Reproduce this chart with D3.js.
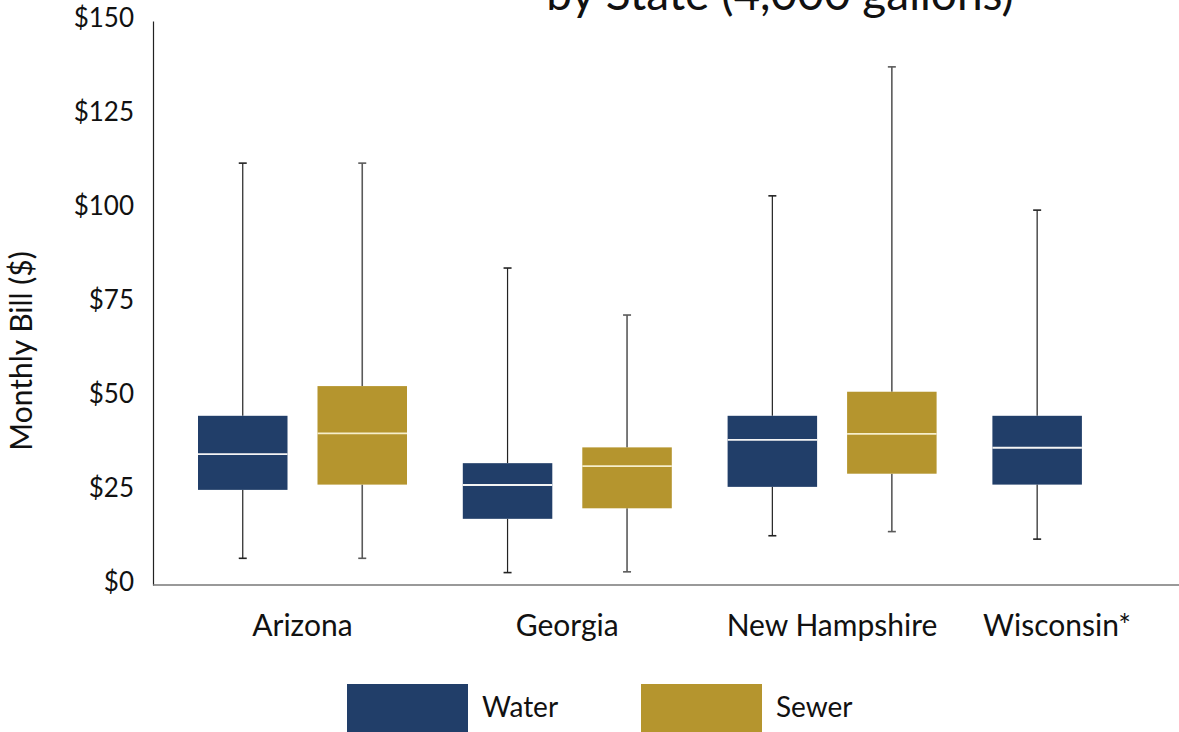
<!DOCTYPE html>
<html>
<head>
<meta charset="utf-8">
<script src="https://cdn.jsdelivr.net/npm/d3@7"></script>
<style>
  html, body { margin: 0; padding: 0; background: #fff; }
  svg { display: block; font-family: Lato, "Open Sans", sans-serif; }
</style>
</head>
<body>
<svg id="chart" width="1179" height="732"></svg>
<script>
// ---- data ----
const categories = ["Arizona", "Georgia", "New Hampshire", "Wisconsin*"];
const seriesNames = ["Water", "Sewer"];
const waterMin    = [7.1, 3.3, 13.1, 12.2];
const waterQ1     = [25.3, 17.6, 26.1, 26.7];
const waterMedian = [34.8, 26.6, 38.6, 36.5];
const waterQ3     = [45.0, 32.4, 45.0, 45.0];
const waterMax    = [112.2, 84.3, 103.5, 99.7];
const sewerMin    = [7.1, 3.5, 14.2, null];
const sewerQ1     = [26.7, 20.4, 29.6, null];
const sewerMedian = [40.3, 31.6, 40.2, null];
const sewerQ3     = [52.9, 36.6, 51.4, null];
const sewerMax    = [112.2, 71.8, 137.8, null];
const yTicks = [0, 25, 50, 75, 100, 125, 150];
const titleText = "by State (4,000 gallons)";
const yTitle = "Monthly Bill ($)";

// ---- build rows ----
const rows = [];
categories.forEach((c, i) => {
  if (waterQ1[i] != null) rows.push({cat: c, s: "Water", min: waterMin[i], q1: waterQ1[i], med: waterMedian[i], q3: waterQ3[i], max: waterMax[i]});
  if (sewerQ1[i] != null) rows.push({cat: c, s: "Sewer", min: sewerMin[i], q1: sewerQ1[i], med: sewerMedian[i], q3: sewerQ3[i], max: sewerMax[i]});
});

const colors = {Water: "#213e69", Sewer: "#b5952e"};
const medColors = {Water: "#f4f4f4", Sewer: "#f6eecb"};
const whiskColors = {Water: "#222", Sewer: "#5a5a5a"};

const svg = d3.select("#chart");
const plotLeft = 153, plotRight = 1179, plotTop = 21, plotBottom = 585;

const y = d3.scaleLinear().domain([0, 150]).range([plotBottom, plotTop]);
const x = d3.scaleBand().domain(categories).range([170, 1229.2]);
const xs = d3.scaleBand().domain(seriesNames).range([28, 237]).paddingInner(0.251);

// title (second line, partially cut at top as in the reference)
svg.append("text")
  .attr("x", 780).attr("y", 10)
  .attr("text-anchor", "middle")
  .attr("font-size", 46)
  .attr("fill", "#111")
  .text(titleText);

// y axis
const yAxis = d3.axisLeft(y).tickValues(yTicks).tickSize(0).tickPadding(19)
  .tickFormat(d => "$" + d);
const gy = svg.append("g").attr("transform", `translate(${plotLeft},0)`).call(yAxis);
gy.select(".domain").attr("stroke", "#222").attr("stroke-width", 1.2);
gy.selectAll("text").attr("font-size", 26).attr("fill", "#111")
  .attr("font-family", "Lato, sans-serif").attr("dy", "0.22em");

// x axis line
const xAxis = d3.axisBottom(x).tickSize(0).tickFormat("");
const gx = svg.append("g").attr("transform", `translate(0,${plotBottom})`).call(xAxis);
gx.select(".domain").remove();
gx.append("line").attr("x1", plotLeft).attr("x2", plotRight).attr("y1", 0).attr("y2", 0)
  .attr("stroke", "#777").attr("stroke-width", 1.6);

// category labels (kept inside label area on the right)
const labelRightLimit = 1131;
svg.append("g").selectAll("text").data(categories).join("text")
  .attr("y", 636)
  .attr("text-anchor", "middle")
  .attr("font-size", 30)
  .attr("fill", "#111")
  .text(d => d)
  .attr("x", function(d) {
    const c = x(d) + x.bandwidth() / 2;
    const w = this.getComputedTextLength();
    return Math.min(c, labelRightLimit - w / 2);
  });

// y title
svg.append("text")
  .attr("transform", "translate(32,351) rotate(-90)")
  .attr("text-anchor", "middle")
  .attr("font-size", 30)
  .attr("fill", "#111")
  .text(yTitle);

// boxes
const g = svg.append("g");
const bx = d => x(d.cat) + xs(d.s);
const bw = xs.bandwidth();
const capW = 8;

const grp = g.selectAll("g.box").data(rows).join("g").attr("class", "box");
grp.append("line")
  .attr("x1", d => bx(d) + bw / 2).attr("x2", d => bx(d) + bw / 2)
  .attr("y1", d => y(d.max)).attr("y2", d => y(d.q3))
  .attr("stroke", d => whiskColors[d.s]).attr("stroke-width", d => d.s === "Water" ? 1.2 : 1.6);
grp.append("line")
  .attr("x1", d => bx(d) + bw / 2).attr("x2", d => bx(d) + bw / 2)
  .attr("y1", d => y(d.q1)).attr("y2", d => y(d.min))
  .attr("stroke", d => whiskColors[d.s]).attr("stroke-width", d => d.s === "Water" ? 1.2 : 1.6);
grp.append("line")
  .attr("x1", d => bx(d) + bw / 2 - capW / 2).attr("x2", d => bx(d) + bw / 2 + capW / 2)
  .attr("y1", d => y(d.max)).attr("y2", d => y(d.max))
  .attr("stroke", d => whiskColors[d.s]).attr("stroke-width", 1.6);
grp.append("line")
  .attr("x1", d => bx(d) + bw / 2 - capW / 2).attr("x2", d => bx(d) + bw / 2 + capW / 2)
  .attr("y1", d => y(d.min)).attr("y2", d => y(d.min))
  .attr("stroke", d => whiskColors[d.s]).attr("stroke-width", 1.6);
grp.append("rect")
  .attr("x", d => bx(d)).attr("width", bw)
  .attr("y", d => y(d.q3)).attr("height", d => y(d.q1) - y(d.q3))
  .attr("fill", d => colors[d.s]);
grp.append("line")
  .attr("x1", d => bx(d)).attr("x2", d => bx(d) + bw)
  .attr("y1", d => y(d.med)).attr("y2", d => y(d.med))
  .attr("stroke", d => medColors[d.s]).attr("stroke-width", 1.8);

// legend
const legend = svg.append("g");
const legX = d3.scaleOrdinal().domain(seriesNames).range([347, 641]);
const lg = legend.selectAll("g").data(seriesNames).join("g")
  .attr("transform", d => `translate(${legX(d)},684)`);
lg.append("rect").attr("width", 121).attr("height", 60).attr("fill", d => colors[d]);
lg.append("text").attr("x", 135).attr("y", 33).attr("font-size", 28).attr("fill", "#111").text(d => d);
</script>
</body>
</html>
